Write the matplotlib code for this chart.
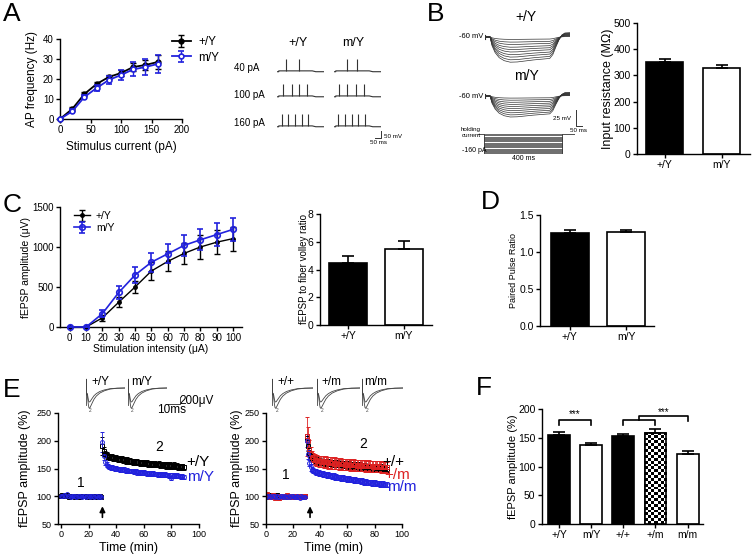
import numpy as np
import matplotlib
matplotlib.use('Agg')
import matplotlib.pyplot as plt

plt.rcParams['font.family'] = ['Liberation Sans', 'DejaVu Sans']
plt.rcParams['axes.linewidth'] = 1.0

BLUE = '#2222dd'
RED = '#dd2222'
TRACE = '#333333'

# ---------------- data ----------------
# A: firing frequency vs injected current
a_current = [0, 20, 40, 60, 80, 100, 120, 140, 160]
a_wt = [0, 5, 12.5, 17.5, 21, 23, 26, 27, 28.5]
a_wt_err = [0, 0.8, 1, 1, 1.2, 1.5, 2, 2.5, 3.5]
a_mut = [0, 3.8, 11, 15.5, 19.5, 22, 24.8, 26, 27.5]
a_mut_err = [0, 1, 1, 1.5, 2, 2.5, 3.5, 4, 4.5]
a_rows = ['40 pA', '100 pA', '160 pA']
a_spikes_wt = [[77, 187], [51, 128, 187, 255], [43, 94, 153, 213, 264]]
a_spikes_mut = [[111, 196], [43, 111, 187, 255], [34, 94, 153, 204, 264]]
a_sweep_t = [0, 15, 15, 300, 330, 400]
a_sweep_v = [0, 0, 6, 6, 0, 0]

# B: input resistance + hyperpolarising steps
b_groups = ['+/Y', 'm/Y']
b_rin = [352, 328]
b_rin_err = [9, 10]
b_amp_wt = [4, 8.5, 12.5, 17, 21, 25, 29.5, 33.5, 38, 42]
b_amp_mut = [3.5, 7, 10.5, 14, 17.5, 21, 24.5, 28, 31.5, 35]
b_t = [0, 25, 35, 50, 70, 95, 125, 160, 200, 240, 280, 320, 335, 350, 365, 380, 395, 420]
b_shape = [0, 0, -0.35, -0.62, -0.82, -0.94, -1.0, -0.99, -0.95, -0.91, -0.88,
           -0.85, -0.7, -0.4, -0.12, 0.08, 0.16, 0.17]
b_steps = [0, -10, -20, -30, -40, -50, -60, -70, -80, -90, -100, -110, -120,
           -130, -140, -150, -160]

# C: input-output and fiber volley ratio
c_intensity = [0, 10, 20, 30, 40, 50, 60, 70, 80, 90, 100]
c_wt = [0, 0, 115, 310, 500, 700, 820, 920, 1000, 1060, 1105]
c_wt_err = [0, 0, 40, 60, 80, 110, 125, 135, 145, 150, 150]
c_mut = [0, 0, 168, 432, 650, 810, 915, 1020, 1090, 1155, 1220]
c_mut_err = [0, 0, 40, 80, 100, 120, 120, 130, 130, 140, 140]
c_ratio = [4.5, 5.45]
c_ratio_err = [0.5, 0.6]

# D: paired pulse ratio
d_ppr = [1.26, 1.27]
d_ppr_err = [0.03, 0.03]

# E: LTP time course
e_base_t = np.arange(0, 30)
e_post_t = np.arange(30, 90)
e_wt_base = [100, 102, 101, 100, 103, 101, 99, 100, 101, 100, 99, 100, 101, 100, 99,
             100, 101, 100, 100, 99, 101, 100, 99, 100, 100, 101, 99, 100, 100, 99]
e_mut_base = [101, 100, 102, 101, 104, 100, 101, 99, 100, 101, 100, 99, 100, 100, 101,
              99, 100, 101, 99, 100, 100, 99, 101, 100, 99, 100, 100, 99, 100, 99]
e_wt_post = [190, 181, 176, 174, 172, 171, 170, 171, 169, 168,
             169, 167, 168, 166, 167, 165, 166, 164, 165, 163,
             164, 163, 162, 163, 161, 162, 161, 160, 161, 160,
             160, 159, 160, 158, 159, 158, 159, 157, 158, 157,
             157, 158, 156, 157, 156, 156, 155, 157, 155, 156,
             155, 154, 156, 154, 155, 153, 154, 153, 154, 152]
e_mut_post = [197, 172, 161, 157, 155, 153, 152, 152, 151, 150,
              150, 149, 149, 148, 148, 147, 148, 146, 147, 146,
              146, 145, 145, 144, 145, 143, 144, 143, 143, 142,
              143, 142, 141, 142, 141, 141, 140, 141, 140, 140,
              139, 140, 139, 139, 138, 139, 138, 138, 137, 138,
              133, 137, 137, 136, 137, 136, 136, 135, 136, 135]
e_wt_err = [16, 8, 6, 6] + [5] * 56
e_mut_err = [18, 7, 5, 5] + [4] * 56

e2_wt_base = [101, 100, 99, 102, 100, 101, 99, 100, 103, 101, 100, 99, 100, 101, 100,
              99, 100, 101, 100, 99, 101, 100, 100, 99, 100, 101, 100, 99, 100, 100]
e2_het_base = [103, 104, 101, 99, 100, 102, 98, 97, 101, 100, 96, 99, 101, 100, 98,
               100, 102, 99, 100, 101, 99, 100, 98, 101, 100, 99, 101, 100, 99, 100]
e2_hom_base = [100, 99, 101, 100, 98, 100, 101, 99, 100, 98, 99, 100, 101, 99, 100,
               98, 99, 100, 99, 101, 100, 98, 99, 100, 99, 97, 100, 99, 98, 99]
e2_wt_post = [205, 190, 178, 172, 169, 167, 166, 165, 164, 163,
              163, 162, 162, 161, 162, 160, 161, 160, 160, 159,
              160, 159, 158, 159, 158, 158, 157, 158, 157, 157,
              156, 157, 156, 156, 155, 156, 155, 155, 154, 155,
              154, 154, 153, 154, 153, 153, 152, 153, 152, 152,
              152, 151, 152, 151, 151, 152, 151, 150, 151, 150]
e2_het_post = [208, 200, 186, 177, 171, 168, 166, 165, 164, 163,
               163, 162, 163, 161, 162, 161, 160, 161, 160, 160,
               159, 160, 159, 159, 158, 159, 158, 158, 157, 158,
               157, 157, 156, 157, 156, 157, 156, 155, 156, 155,
               156, 155, 155, 154, 155, 154, 155, 154, 154, 153,
               154, 153, 154, 153, 153, 152, 153, 152, 153, 152]
e2_hom_post = [200, 176, 160, 152, 148, 146, 145, 144, 143, 142,
               141, 141, 140, 139, 139, 138, 138, 137, 137, 136,
               136, 135, 135, 134, 134, 133, 133, 133, 132, 132,
               131, 131, 130, 130, 130, 129, 129, 128, 128, 128,
               127, 127, 126, 126, 126, 125, 125, 125, 124, 124,
               124, 123, 123, 123, 122, 122, 122, 121, 121, 121]
e2_wt_err = [8, 8, 6, 6] + [6] * 56
e2_het_err = [35, 25, 15, 12] + [10] * 56
e2_hom_err = [12, 8, 6, 6] + [5] * 56

# fEPSP example traces (uV), before (1) and after (2) tetanus
fepsp_t = [0, 0.2, 0.5, 1.0, 1.5, 2.0, 2.5, 3.0, 3.5, 4.5, 5.5, 7, 9, 12, 16, 21, 27, 34]
fepsp_1 = [0, 250, -200, -150, -220, -330, -390, -400, -390, -340, -290, -220, -160,
           -100, -55, -20, -5, 0]
fepsp_2 = [0, 250, -200, -170, -300, -460, -560, -580, -560, -490, -420, -320, -230,
           -145, -80, -30, -8, 0]

# F: LTP summary
f_groups = ['+/Y', 'm/Y', '+/+', '+/m', 'm/m']
f_ltp = [155, 138, 153, 158, 122]
f_ltp_err = [6, 4, 4, 8, 6]

# ---------------- helpers ----------------
W, H = 752, 557
fig = plt.figure(figsize=(W / 100, H / 100), dpi=100)


def axes_px(l, t, r, b):
    return fig.add_axes([l / W, 1 - b / H, (r - l) / W, (b - t) / H])


def text_px(x, y, s, **kw):
    kw.setdefault('ha', 'center')
    kw.setdefault('va', 'center')
    fig.text(x / W, 1 - y / H, s, **kw)


def prism(ax, fs=7):
    ax.spines['top'].set_visible(False)
    ax.spines['right'].set_visible(False)
    ax.tick_params(direction='out', length=3, width=1, labelsize=fs, pad=1.5)


def ylabel_px(ax, s, xpx, fs):
    pos = ax.get_position()
    ax.set_ylabel(s, fontsize=fs)
    ax.yaxis.set_label_coords((xpx / W - pos.x0) / pos.width, 0.5)
    ax.yaxis.label.set_va('center')


def xlabel_px(ax, s, ypx, fs):
    pos = ax.get_position()
    ax.set_xlabel(s, fontsize=fs)
    ax.xaxis.set_label_coords(0.5, ((1 - ypx / H) - pos.y0) / pos.height)
    ax.xaxis.label.set_va('center')


def bars(ax, vals, errs, colors, width):
    x = np.arange(len(vals))
    b = ax.bar(x, vals, width=width, color=colors, edgecolor='black', linewidth=1.2, zorder=2)
    ax.errorbar(x, vals, yerr=[np.zeros(len(errs)), errs], fmt='none', ecolor='black',
                elinewidth=1.2, capsize=4, capthick=1.2, zorder=3)
    return b


for lab, x, y in [('A', 3, 2), ('B', 427, 2), ('C', 3, 193), ('D', 481, 190),
                  ('E', 3, 378), ('F', 476, 376)]:
    text_px(x, y, lab, fontsize=19, ha='left', va='top')

# ---------------- panel A ----------------
ax = axes_px(60, 39, 182, 119)
ax.errorbar(a_current, a_wt, yerr=a_wt_err, color='black', marker='o', ms=3.5, lw=1.3,
            capsize=2, elinewidth=1, label='+/Y', zorder=3, clip_on=False)
ax.errorbar(a_current, a_mut, yerr=a_mut_err, color=BLUE, marker='o', ms=3.5, mfc='white',
            mew=1.2, lw=1.3, capsize=2, elinewidth=1, label='m/Y', zorder=4, clip_on=False)
ax.set_xlim(0, 200)
ax.set_ylim(0, 40)
ax.set_xticks([0, 50, 100, 150, 200])
ax.set_yticks([0, 10, 20, 30, 40])
prism(ax, 7)
ylabel_px(ax, 'AP frequency (Hz)', 32, 8.5)
xlabel_px(ax, 'Stimulus current (pA)', 147, 8.5)
ax.legend(loc='upper left', bbox_to_anchor=(172 / W, 1 - 36 / H), bbox_transform=fig.transFigure,
          frameon=False, fontsize=8.5, handlelength=1.6, borderpad=0, labelspacing=0.3,
          handletextpad=0.6, borderaxespad=0)

# spike trains
for x0, spikes, head, hx in [(277, a_spikes_wt, '+/Y', 298), (334, a_spikes_mut, 'm/Y', 353)]:
    tax = axes_px(x0, 50, x0 + 47, 135)
    tax.set_xlim(0, 400)
    tax.set_ylim(-607, 0)
    tax.axis('off')
    for base, sp in zip([-155, -334, -548], spikes):
        tax.plot(a_sweep_t, np.array(a_sweep_v) + base, color=TRACE, lw=0.8)
        tax.vlines(sp, base + 6, base + 92, color=TRACE, lw=0.8)
    text_px(hx, 43, head, fontsize=9)
    if head == 'm/Y':
        tax.plot([350, 400, 400], [-629, -629, -579], color=TRACE, lw=0.7, clip_on=False)
for lab, y in zip(a_rows, [68, 95, 123]):
    text_px(234, y, lab, fontsize=7, ha='left')
text_px(384, 136, '50 mV', fontsize=4.5, ha='left')
text_px(378, 143, '50 ms', fontsize=4.5)

# ---------------- panel B traces ----------------
for amps, base_px, head in [(b_amp_wt, 37, '+/Y'), (b_amp_mut, 96, 'm/Y')]:
    top = base_px - 8
    tax = axes_px(485, top, 570, top + 45)
    tax.set_xlim(0, 420)
    tax.set_ylim(-(top + 45 - base_px) / 0.6, (base_px - top) / 0.6)
    tax.axis('off')
    for a in amps:
        tax.plot(b_t, np.array(b_shape) * a, color=TRACE, lw=0.5)
    tax.plot([0, 0], [-3, 3], color=TRACE, lw=0.8)
    text_px(483, base_px, '-60 mV', fontsize=5.5, ha='right')
    text_px(526, base_px - 20, head, fontsize=10)
    if head == 'm/Y':
        tax.plot([448, 448, 478], [-23, -50, -50], color=TRACE, lw=0.7, clip_on=False)
text_px(571, 119, '25 mV', fontsize=4.5, ha='right')
text_px(578, 130, '50 ms', fontsize=4.5)

sax = axes_px(478, 133, 575, 154)
sax.set_xlim(-30, 420)
sax.set_ylim(-165, 10)
sax.axis('off')
for lev in b_steps:
    sax.plot([0, 360], [lev, lev], color=TRACE, lw=0.5)
sax.plot([-30, 0, 0], [0, 0, -160], color=TRACE, lw=0.6)
sax.plot([360, 360, 420], [-160, 0, 0], color=TRACE, lw=0.6)
text_px(471, 130, 'holding', fontsize=4.5)
text_px(471, 135.5, 'current', fontsize=4.5)
text_px(474, 150, '-160 pA', fontsize=5)
text_px(524, 159, '400 ms', fontsize=5)

# ---------------- panel B bar ----------------
ax = axes_px(637, 23, 750, 154)
bars(ax, b_rin, b_rin_err, ['black', 'white'], 0.65)
ax.set_xlim(-0.49, 1.5)
ax.set_ylim(0, 500)
ax.set_yticks(range(0, 501, 100))
ax.set_xticks([0, 1])
ax.set_xticklabels(b_groups)
prism(ax, 7.5)
ylabel_px(ax, 'Input resistance (M\u03a9)', 608, 9)

# ---------------- panel C ----------------
ax = axes_px(60, 207, 242, 327)
ax.errorbar(c_intensity, c_wt, yerr=c_wt_err, color='black', marker='o', ms=2.5, lw=1,
            capsize=2, elinewidth=1, label='+/Y', zorder=3, clip_on=False)
ax.errorbar(c_intensity, c_mut, yerr=c_mut_err, color=BLUE, marker='o', ms=4, mfc='none',
            mew=1.2, lw=1.2, capsize=2.5, elinewidth=1.2, label='m/Y', zorder=4, clip_on=False)
ax.set_xlim(-6, 105.5)
ax.set_ylim(0, 1500)
ax.set_xticks(c_intensity)
ax.set_yticks([0, 500, 1000, 1500])
prism(ax, 7)
ylabel_px(ax, 'fEPSP amplitude (\u03bcV)', 26, 7.5)
xlabel_px(ax, 'Stimulation intensity (\u03bcA)', 349, 7.5)
ax.legend(loc='upper left', bbox_to_anchor=(74 / W, 1 - 211 / H), bbox_transform=fig.transFigure,
          frameon=False, fontsize=7.5, handlelength=1.5, borderpad=0, labelspacing=0.2,
          handletextpad=0.6, borderaxespad=0)

ax = axes_px(320, 214, 432, 325)
bars(ax, c_ratio, c_ratio_err, ['black', 'white'], 0.68)
ax.set_xlim(-0.5, 1.5)
ax.set_ylim(0, 8)
ax.set_yticks([0, 2, 4, 6, 8])
ax.set_xticks([0, 1])
ax.set_xticklabels(b_groups)
prism(ax, 7.5)
ylabel_px(ax, 'fEPSP to fiber volley ratio', 304, 7)

# ---------------- panel D ----------------
ax = axes_px(540, 215, 654, 325.7)
bars(ax, d_ppr, d_ppr_err, ['black', 'white'], 0.67)
ax.set_xlim(-0.53, 1.49)
ax.set_ylim(0, 1.5)
ax.set_yticks([0, 0.5, 1.0, 1.5])
ax.set_yticklabels(['0.0', '0.5', '1.0', '1.5'])
ax.set_xticks([0, 1])
ax.set_xticklabels(b_groups)
prism(ax, 7.5)
ylabel_px(ax, 'Paired Pulse Ratio', 513, 6.5)

# ---------------- panel E ----------------
def ltp_series(ax, base, post, err, color, marker):
    kw = dict(color=color, marker=marker, ms=2.8, mfc='none', mew=0.7, lw=0, elinewidth=0.6,
              capsize=1.2, capthick=0.6)
    ax.errorbar(e_base_t, base, yerr=2, **kw)
    ax.errorbar(e_post_t, post, yerr=err, **kw)


def style_ltp(ax, x0):
    ax.set_xlim(x0, 100)
    ax.set_ylim(50, 250)
    ax.set_xticks([0, 20, 40, 60, 80, 100])
    ax.set_yticks([50, 100, 150, 200, 250])
    prism(ax, 6.5)
    xlabel_px(ax, 'Time (min)', 548, 9)


def fepsp_inset(l, r, head):
    iax = axes_px(l, 378, r, 412)
    iax.set_xlim(0, 34)
    iax.set_ylim(-686, 286)
    iax.axis('off')
    iax.plot(fepsp_t, fepsp_1, color='#444444', lw=0.6)
    iax.plot(fepsp_t, fepsp_2, color='#444444', lw=0.6)
    iax.plot([0, 0], [250, -500], color='#444444', lw=0.6)
    iax.text(4, -640, '2', fontsize=3.5, ha='center', va='center', color='#444444')
    text_px(l + 14, 382, head, fontsize=8.5)
    return iax


ax = axes_px(58, 413, 199, 524)
ltp_series(ax, e_wt_base, e_wt_post, e_wt_err, 'black', 's')
ltp_series(ax, e_mut_base, e_mut_post, e_mut_err, BLUE, 'o')
style_ltp(ax, -2.2)
ylabel_px(ax, 'fEPSP amplitude (%)', 25, 9)
ax.annotate('', xy=(30, 87), xytext=(30, 57), annotation_clip=False,
            arrowprops=dict(arrowstyle='-|>', color='black', lw=1.2, mutation_scale=8))
ax.text(14.5, 124, '1', fontsize=10, ha='center', va='center')
ax.text(71, 188, '2', fontsize=10, ha='center', va='center')
ax.text(91, 161, '+/Y', fontsize=11, ha='left', va='center', clip_on=False)
ax.text(91, 135, 'm/Y', fontsize=11, ha='left', va='center', color=BLUE, clip_on=False)

fepsp_inset(86, 125, '+/Y')
iax = fepsp_inset(128, 167, 'm/Y')
iax.plot([35, 45.5, 45.5], [-457, -457, -257], color='#444444', lw=0.7, clip_on=False)
text_px(197, 401, '200\u03bcV', fontsize=8.5)
text_px(172, 410, '10ms', fontsize=8.5)

ax = axes_px(265.7, 413, 401.7, 524)
ltp_series(ax, e2_wt_base, e2_wt_post, e2_wt_err, 'black', 's')
ltp_series(ax, e2_het_base, e2_het_post, e2_het_err, RED, 's')
ltp_series(ax, e2_hom_base, e2_hom_post, e2_hom_err, BLUE, 'o')
style_ltp(ax, 0)
ylabel_px(ax, 'fEPSP amplitude (%)', 237, 9)
ax.annotate('', xy=(32.6, 87), xytext=(32.6, 57), annotation_clip=False,
            arrowprops=dict(arrowstyle='-|>', color='black', lw=1.2, mutation_scale=8))
ax.text(15, 138, '1', fontsize=10, ha='center', va='center')
ax.text(72, 195, '2', fontsize=10, ha='center', va='center')
ax.text(86, 162, '+/+', fontsize=11, ha='left', va='center', clip_on=False)
ax.text(87, 139, '+/m', fontsize=11, ha='left', va='center', color=RED, clip_on=False)
ax.text(89.5, 116, 'm/m', fontsize=11, ha='left', va='center', color=BLUE, clip_on=False)

fepsp_inset(272, 313, '+/+')
fepsp_inset(317, 360, '+/m')
fepsp_inset(362, 403, 'm/m')

# ---------------- panel F ----------------
ax = axes_px(541.7, 409.3, 703, 524)
fx = np.arange(len(f_ltp))
colors = ['black', 'white', 'black', 'white', 'white']
b = bars(ax, f_ltp, f_ltp_err, colors, 0.68)
checker = np.indices((40, 7)).sum(axis=0) % 2
im = ax.imshow(checker, cmap='gray', extent=(3 - 0.34, 3 + 0.34, 0, 200), aspect='auto',
               interpolation='nearest', zorder=2.5)
im.set_clip_path(b[3])
ax.bar([3], [f_ltp[3]], width=0.68, fill=False, edgecolor='black', linewidth=1.2, zorder=2.6)
ax.set_xlim(-0.54, 4.48)
ax.set_ylim(0, 200)
ax.set_yticks([0, 50, 100, 150, 200])
ax.set_xticks(fx)
ax.set_xticklabels(f_groups)
prism(ax, 7.5)
ylabel_px(ax, 'fEPSP amplitude (%)', 513, 8)
ax.plot([0, 0, 1, 1], [172, 181, 181, 172], color='black', lw=1.2)
ax.text(0.5, 191, '***', fontsize=7, ha='center', va='center')
ax.plot([2, 2, 3, 3], [172, 181, 181, 172], color='black', lw=1.2)
ax.plot([2.5, 2.5, 4, 4], [181, 188, 188, 180], color='black', lw=1.2)
ax.text(3.25, 196, '***', fontsize=7, ha='center', va='center')

fig.savefig('out.png', dpi=100)
